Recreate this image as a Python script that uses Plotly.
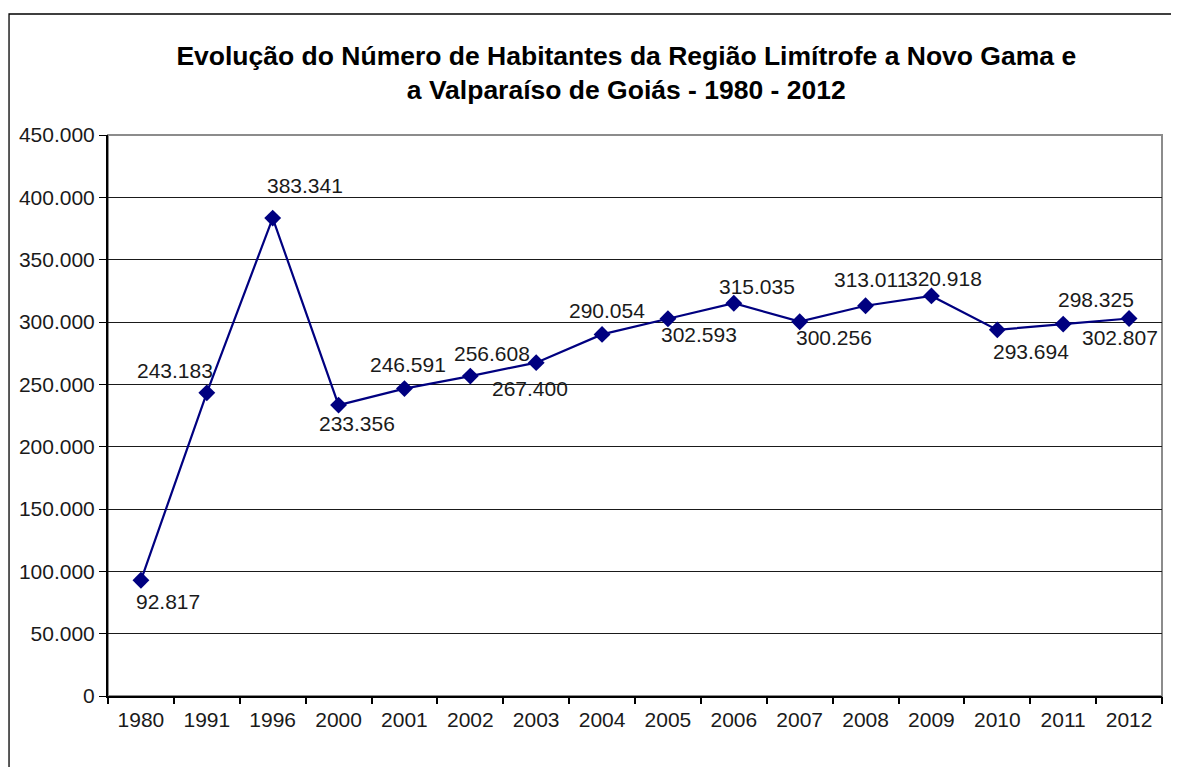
import plotly.graph_objects as go

years = ["1980", "1991", "1996", "2000", "2001", "2002", "2003", "2004",
         "2005", "2006", "2007", "2008", "2009", "2010", "2011", "2012"]
habitantes = [92817, 243183, 383341, 233356, 246591, 256608, 267400, 290054,
              302593, 315035, 300256, 313011, 320918, 293694, 298325, 302807]
# label offsets (pixels) relative to each marker
label_dx = [27, -32, 32, 18, 4, 22, -6, 5, 31, 23, 34, 5, 13, 34, 33, -9]
label_dy = [-21, 22, 33, -18, 24, 23, -26, 24, -16, 17, -16, 26, 17, -22, 25, -19]

title = "<b>Evolução do Número de Habitantes da Região Limítrofe a Novo Gama e<br>a Valparaíso de Goiás - 1980 - 2012</b>"

FONT = "Liberation Sans, Arial"

def fmt(v):
    return f"{v:,}".replace(",", ".")

fig = go.Figure()
fig.add_trace(go.Scatter(
    x=list(range(len(years))), y=habitantes, mode="lines+markers",
    line=dict(color="#000080", width=2.2),
    marker=dict(symbol="diamond", size=13, color="#000080"),
    hoverinfo="skip", showlegend=False,
))

for i, (y, dx, dy) in enumerate(zip(habitantes, label_dx, label_dy)):
    fig.add_annotation(x=i, y=y, text=fmt(y), showarrow=False,
                       xshift=dx, yshift=dy,
                       font=dict(family=FONT, size=21, color="#1a1a1a"))

# outer chart frame
fig.add_shape(type="rect", xref="paper", yref="paper",
              x0=-0.0939, x1=1.2, y0=-0.5, y1=1.2157,
              line=dict(color="black", width=1.3), layer="below")
# plot area border (gray)
fig.add_shape(type="rect", xref="paper", yref="paper",
              x0=0, x1=1, y0=0, y1=1,
              line=dict(color="#8c8c8c", width=2), layer="below")

fig.update_layout(
    width=1171, height=759,
    margin=dict(l=100, r=17, t=127, b=71),
    paper_bgcolor="white", plot_bgcolor="white",
    separators=",.",
    title=dict(text=title, x=0.528, xanchor="center", y=0.925, yanchor="top",
               font=dict(family=FONT, size=26.5, color="black")),
    font=dict(family=FONT, size=21, color="#1a1a1a"),
    xaxis=dict(tickmode="array", tickvals=list(range(len(years))), ticktext=years,
               ticks="", showline=True, linecolor="black", linewidth=2,
               showgrid=False, zeroline=False, tickfont=dict(size=21),
               ticklabelstandoff=4, range=[-0.5, 15.5]),
    xaxis2=dict(overlaying="x", range=[-0.5, 15.5], tickmode="array",
                tickvals=[i - 0.5 for i in range(len(years) + 1)],
                ticks="outside", ticklen=7, tickcolor="black", tickwidth=1.5,
                showticklabels=False, showgrid=False, zeroline=False,
                side="bottom", anchor="y"),
    yaxis=dict(range=[0, 450000], dtick=50000, tickformat=",d",
               ticks="outside", ticklen=7, tickcolor="black",
               showline=True, linecolor="black", linewidth=2,
               showgrid=True, gridcolor="#1a1a1a", gridwidth=1,
               zeroline=False, tickfont=dict(size=21)),
)
# invisible trace to activate the tick axis at category boundaries
fig.add_trace(go.Scatter(x=[0], y=[0], xaxis="x2", mode="markers",
                         marker=dict(opacity=0), hoverinfo="skip", showlegend=False))

fig.write_html("out.html")
